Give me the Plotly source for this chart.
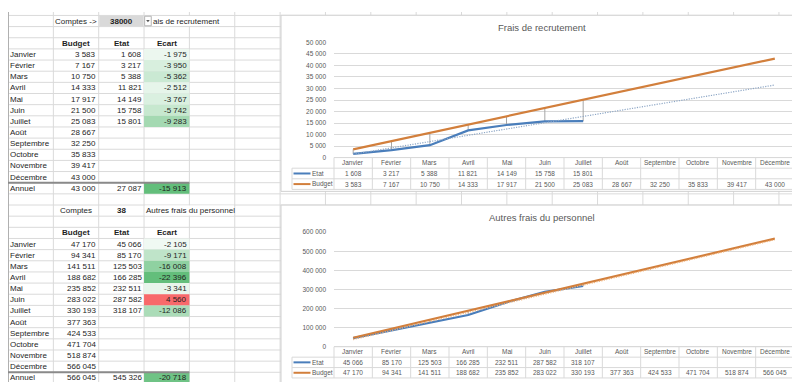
import numpy as np
import plotly.graph_objects as go

W, H = 800, 382

# ---------------- data ----------------
months = ["Janvier", "Février", "Mars", "Avril", "Mai", "Juin", "Juillet",
          "Août", "Septembre", "Octobre", "Novembre", "Décembre"]
col_headers = ["Budget", "Etat", "Ecart"]
series_names = ["Etat", "Budget"]

rec_title = "Frais de recrutement"
rec_cell_visible = "ais de recrutement"   # cell text partly hidden by the dropdown button
rec_compte = "38000"
rec_budget = [3583, 7167, 10750, 14333, 17917, 21500, 25083, 28667, 32250, 35833, 39417, 43000]
rec_etat = [1608, 3217, 5388, 11821, 14149, 15758, 15801]
rec_ecart = [-1975, -3950, -5362, -2512, -3767, -5742, -9283]
rec_annuel = [43000, 27087, -15913]

aut_title = "Autres frais du personnel"
aut_compte = "38"
aut_budget = [47170, 94341, 141511, 188682, 235852, 283022, 330193, 377363, 424533, 471704, 518874, 566045]
aut_etat = [45066, 85170, 125503, 166285, 232511, 287582, 318107]
aut_ecart = [-2105, -9171, -16008, -22396, -3341, 4560, -12086]
aut_annuel = [566045, 545326, -20718]

# ---------------- helpers ----------------
FONT = "Liberation Sans"
GRID = "#dadada"
C_ETAT = "#4a7ebb"
C_BUDGET = "#d27f3c"
C_TREND1 = "#8ea7c6"
C_TREND2 = "#f0b27a"
C_HILO = "#a6a6a6"
C_CHART_TXT = "#595959"

def fx(x):
    return x / W

def fy(y):
    return 1 - y / H

def fmt(v):
    return f"{v:,}".replace(",", " ")

shapes = []
annotations = []

def line(x0, y0, x1, y1, color, width=1, layer="below"):
    shapes.append(dict(type="line", xref="paper", yref="paper",
                       x0=fx(x0), y0=fy(y0), x1=fx(x1), y1=fy(y1),
                       line=dict(color=color, width=width), layer=layer))

def rect(x0, y0, x1, y1, fill, border=None, bw=1, layer="below"):
    shapes.append(dict(type="rect", xref="paper", yref="paper",
                       x0=fx(x0), y0=fy(y0), x1=fx(x1), y1=fy(y1),
                       fillcolor=fill,
                       line=dict(color=border if border else fill, width=bw if border else 0),
                       layer=layer))

def text(x, y, s, anchor="left", size=8, color="#1e1e1e", **kw):
    d = dict(xref="paper", yref="paper", x=fx(x), y=fy(y), text=s, showarrow=False,
             xanchor=anchor, yanchor="middle",
             font=dict(size=size, color=color, family=FONT),
             borderpad=0, borderwidth=0)
    d.update(kw)
    annotations.append(d)

def scale_color(v, vmin, vmax):
    white = np.array([255, 255, 255])
    if v < 0:
        t = v / vmin
        c = white + t * (np.array([99, 190, 123]) - white)
    else:
        t = v / vmax if vmax > 0 else 0
        c = white + t * (np.array([248, 105, 107]) - white)
    c = np.round(c).astype(int)
    return f"rgb({c[0]},{c[1]},{c[2]})"

# ---------------- spreadsheet grid ----------------
COL_W = 45.35
ROW_Y0 = 3.5
ROW_H = 11.36

def rt(k):
    return ROW_Y0 + k * ROW_H

def rc(k):
    return ROW_Y0 + (k + 0.5) * ROW_H

def cl(c):
    return c * COL_W

def cc(c):
    return (c + 0.5) * COL_W

for k in range(0, 19):
    x = cl(k)
    if x <= W:
        line(x, 0, x, H, GRID)
for k in range(-1, 35):
    y = rt(k)
    if 0 <= y <= H:
        line(0, y, W, y, GRID)
line(0.5, 0, 0.5, H, "#b0b0b0")

# ---------------- spreadsheet blocks ----------------
def block(r0, compte, title, budget, etat, ecart, annuel, first):
    # overflow area of title (hide vertical grid)
    rect(cl(3) + 0.8, rt(r0) + 0.6, cl(5) - 0.8, rt(r0 + 1) - 0.6, "white")
    if first:
        rect(cl(2) + 0.5, rt(r0) + 0.5, cl(3) - 0.5, rt(r0 + 1) - 0.5, "#d9d9d9")
        text(cc(1), rc(r0), "Comptes ->", "center")
    else:
        text(cc(1), rc(r0), "Comptes", "center")
    text(cc(2), rc(r0), "<b>" + compte + "</b>", "center")
    if first:
        # dropdown button covering the beginning of the cell text
        bx0, bx1 = cl(3) + 0.6, cl(3) + 7.2
        by0, by1 = rt(r0) + 0.8, rt(r0 + 1) - 0.8
        rect(bx0, by0, bx1, by1, "white", "#b4b4b4", 1)
        mx, my = (bx0 + bx1) / 2, (by0 + by1) / 2
        shapes.append(dict(type="path", xref="paper", yref="paper",
                           path=f"M {fx(mx - 1.8)} {fy(my - 1.0)} L {fx(mx + 1.8)} {fy(my - 1.0)} "
                                f"L {fx(mx)} {fy(my + 1.3)} Z",
                           fillcolor="#555555", line=dict(width=0), layer="below"))
        text(bx1 + 1.8, rc(r0), title, "left")
    else:
        text(cl(3) + 2.2, rc(r0), title, "left")
    # headers
    for j, hname in enumerate(col_headers):
        text(cc(j + 1), rc(r0 + 2), "<b>" + hname + "</b>", "center")
    vals = list(ecart) + [annuel[2]]
    vmin, vmax = min(vals), max(vals)
    # fills
    for i, v in enumerate(ecart):
        rect(cl(3), rt(r0 + 3 + i), cl(4), rt(r0 + 4 + i), scale_color(v, vmin, vmax))
    rect(cl(3), rt(r0 + 15), cl(4), rt(r0 + 16), scale_color(annuel[2], vmin, vmax))
    # double border above total
    line(0, rt(r0 + 15), cl(4), rt(r0 + 15), "#8a8a8a", 2)
    for i, m in enumerate(months):
        r = r0 + 3 + i
        text(2, rc(r), m, "left")
        text(cl(2) - 2.3, rc(r), fmt(budget[i]), "right")
        if i < len(etat):
            text(cl(3) - 2.5, rc(r), fmt(etat[i]), "right")
            text(cl(4) - 2.6, rc(r), fmt(ecart[i]), "right")
    r = r0 + 15
    text(2, rc(r), "Annuel", "left")
    text(cl(2) - 2.3, rc(r), fmt(annuel[0]), "right")
    text(cl(3) - 2.5, rc(r), fmt(annuel[1]), "right")
    text(cl(4) - 2.6, rc(r), fmt(annuel[2]), "right")

block(0, rec_compte, rec_cell_visible, rec_budget, rec_etat, rec_ecart, rec_annuel, True)
block(17, aut_compte, aut_title, aut_budget, aut_etat, aut_ecart, aut_annuel, False)

# ---------------- charts ----------------
CH_L, CH_R = 273, 795
PL_L, PL_R = 326, 786
LEG_L = 284
CW = (PL_R - PL_L) / 12

fig = go.Figure()
layout_axes = {}

def chart(n, top, bottom, title, title_y, plot_top, table_top, rh,
          budget, etat, ymax, dtick, trend_color):
    rect(CH_L, top, CH_R, bottom, "white", "#d0d0d0", 1)
    xa = "x" if n == 1 else f"x{n}"
    ya = "y" if n == 1 else f"y{n}"
    xkey = "xaxis" if n == 1 else f"xaxis{n}"
    ykey = "yaxis" if n == 1 else f"yaxis{n}"
    layout_axes[xkey] = dict(domain=[fx(PL_L), fx(PL_R)], range=[-0.5, 11.5],
                             visible=False, anchor=ya)
    layout_axes[ykey] = dict(domain=[fy(table_top), fy(plot_top)], range=[0, ymax],
                             dtick=dtick, tick0=0, tickformat=",d",
                             showgrid=True, gridcolor="#d9d9d9", gridwidth=1,
                             zeroline=True, zerolinecolor="#d9d9d9", zerolinewidth=1,
                             showline=False, ticks="", ticklabelstandoff=7,
                             tickfont=dict(size=6.5, color=C_CHART_TXT, family=FONT),
                             anchor=xa)
    text((CH_L + CH_R) / 2, title_y, title, "center", size=9.5, color=C_CHART_TXT)

    xi = list(range(len(months)))
    xe = list(range(len(etat)))
    # high-low lines
    hx, hy = [], []
    for i in xe:
        hx += [i, i, None]
        hy += [etat[i], budget[i], None]
    fig.add_trace(go.Scatter(x=hx, y=hy, mode="lines", xaxis=xa, yaxis=ya,
                             line=dict(color=C_HILO, width=1), hoverinfo="skip"))
    fig.add_trace(go.Scatter(x=xe, y=etat, mode="lines", name="Etat", xaxis=xa, yaxis=ya,
                             line=dict(color=C_ETAT, width=2.2)))
    fig.add_trace(go.Scatter(x=xi, y=budget, mode="lines", name="Budget", xaxis=xa, yaxis=ya,
                             line=dict(color=C_BUDGET, width=2.2)))
    # linear trendline of Etat (as in the Excel chart)
    a, b = np.polyfit(np.array(xe, dtype=float), np.array(etat, dtype=float), 1)
    fig.add_trace(go.Scatter(x=xi, y=[a * i + b for i in xi], mode="lines", xaxis=xa, yaxis=ya,
                             line=dict(color=trend_color, width=1.2, dash="1.2px,1.3px"),
                             hoverinfo="skip"))

    # data table
    tc = "#d9d9d9"
    t0, t1, t2, t3 = table_top, table_top + rh, table_top + 2 * rh, table_top + 3 * rh
    line(PL_L, t0, PL_R, t0, tc)
    for yy in (t1, t2, t3):
        line(LEG_L, yy, PL_R, yy, tc)
    line(LEG_L, t1, LEG_L, t3, tc)
    for k in range(13):
        xx = PL_L + k * CW
        line(xx, t0, xx, t3, tc)
    for i, m in enumerate(months):
        cx = PL_L + (i + 0.5) * CW
        text(cx, (t0 + t1) / 2, m, "center", size=6.5, color=C_CHART_TXT)
        if i < len(etat):
            text(cx, (t1 + t2) / 2, fmt(etat[i]), "center", size=6.5, color=C_CHART_TXT)
        text(cx, (t2 + t3) / 2, fmt(budget[i]), "center", size=6.5, color=C_CHART_TXT)
    # legend keys
    for yy, nm, col in (((t1 + t2) / 2, series_names[0], C_ETAT), ((t2 + t3) / 2, series_names[1], C_BUDGET)):
        line(LEG_L + 1.5, yy, LEG_L + 18.5, yy, col, 2)
        text(LEG_L + 19.5, yy, nm, "left", size=6.5, color=C_CHART_TXT)

chart(1, 3.3, 182.7, rec_title, 15.7, 31.0, 148.3, 10.8, rec_budget, rec_etat, 50000, 5000, C_TREND1)
chart(2, 196.7, 377.8, aut_title, 209.0, 224.3, 341.0, 10.6, aut_budget, aut_etat, 600000, 100000, C_TREND2)

fig.update_layout(
    width=W, height=H, margin=dict(l=0, r=0, t=0, b=0),
    paper_bgcolor="white", plot_bgcolor="rgba(0,0,0,0)",
    showlegend=False, separators=", ",
    shapes=shapes, annotations=annotations,
    font=dict(family=FONT),
    **layout_axes,
)
fig.write_html("out.html")
